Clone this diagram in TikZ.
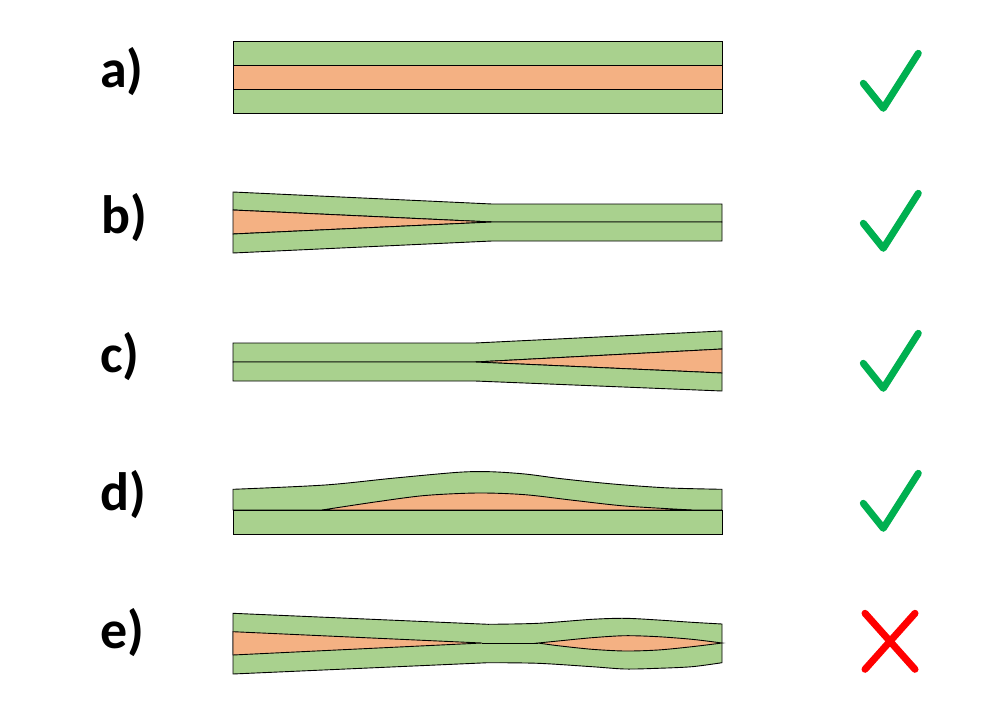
\documentclass[tikz,border=0pt]{standalone}
\usepackage{fontspec}
\setmainfont{Carlito}
\definecolor{layergreen}{HTML}{A9D18E}
\definecolor{layerorange}{HTML}{F4B183}
\definecolor{okgreen}{HTML}{00B050}
\definecolor{badred}{HTML}{FF0000}
\begin{document}
\begin{tikzpicture}[x=1pt,y=-1pt,
	band/.style={draw=black,fill=layergreen,line width=0.9pt,line join=miter},
	core/.style={draw=black,fill=layerorange,line width=0.9pt},
	rowlabel/.style={anchor=base west,inner sep=0pt,font=\bfseries\fontsize{54}{60}\selectfont},
	tick/.style={draw=okgreen,line width=7pt,line cap=round,line join=round},
	cross/.style={draw=badred,line width=7pt,line cap=round}]
	\useasboundingbox (0,0) rectangle (1001,720);

	\node[rowlabel] (la) at (100,87) {a)};
	\node[rowlabel] (lb) at (101,233) {b)};
	\node[rowlabel] (lc) at (100,372) {c)};
	\node[rowlabel] (ld) at (100,510) {d)};
	\node[rowlabel] (le) at (100,648) {e)};

	% a)
	\draw[band] (233,41) rectangle (722,65);
	\draw[core] (233,65) rectangle (722,89);
	\draw[band] (233,89) rectangle (722,113);

	% b)
	\draw[band] (233,192) -- (492,204) -- (722,204) -- (722,222) -- (492,222) -- (233,210) -- cycle;
	\draw[core] (233,210) -- (492,222) -- (233,234) -- cycle;
	\draw[band] (233,234) -- (492,222) -- (722,222) -- (722,241) -- (492,241) -- (233,253) -- cycle;

	% c)
	\draw[band] (233,343) -- (475,343) -- (722,331) -- (722,349) -- (475,362) -- (233,362) -- cycle;
	\draw[core] (475,362) -- (722,349) -- (722,373) -- cycle;
	\draw[band] (233,362) -- (475,362) -- (722,373) -- (722,391) -- (475,381) -- (233,381) -- cycle;

	% d)
	\draw[band] plot[smooth] coordinates {(233,489.3) (325,485) (392,478.3) (458,472.3) (490,471.7) (525,474) (558,478.3) (592,482) (625,485) (670,488) (722,489.3)}
		-- (722,510) -- (233,510) -- cycle;
	\draw[core] plot[smooth] coordinates {(322,510) (375,502) (425,495.5) (478,493) (525,494.7) (575,500.5) (625,506) (692,510)} -- cycle;
	\draw[band] (233,510) rectangle (722,534);

	% e)
	\draw[band] (233,613.3) -- (488,624.3)
		-- plot[smooth] coordinates {(488,624.3) (538,623.3) (592,619.3) (625,618.3) (658,620) (692,622.3) (722,624)}
		-- (722,662.7)
		-- plot[smooth] coordinates {(722,662.7) (692,666.7) (658,668.3) (625,669) (592,666.7) (538,663.3) (488,662.7)}
		-- (233,674) -- cycle;
	\draw[core] (233,631.7) -- (482,643) -- (233,655) -- cycle;
	\draw[line width=0.9pt] (482,643) -- (538,643);
	\draw[core] plot[smooth] coordinates {(538,643) (558,641) (592,637.7) (625,635.7) (658,636.7) (692,639.3) (722,643)}
		-- plot[smooth] coordinates {(722,643) (692,646.7) (658,650) (625,651) (592,649.3) (558,645.7) (538,643)} -- cycle;

	\foreach \dy in {0,140,280,420}
		\draw[tick] (863.3,83.3+\dy) -- (883.3,108.3+\dy) -- (918.3,53.3+\dy);
	\draw[cross] (865,613.3) -- (915,669.3);
	\draw[cross] (915,613.3) -- (865,669.3);
\end{tikzpicture}
\end{document}
